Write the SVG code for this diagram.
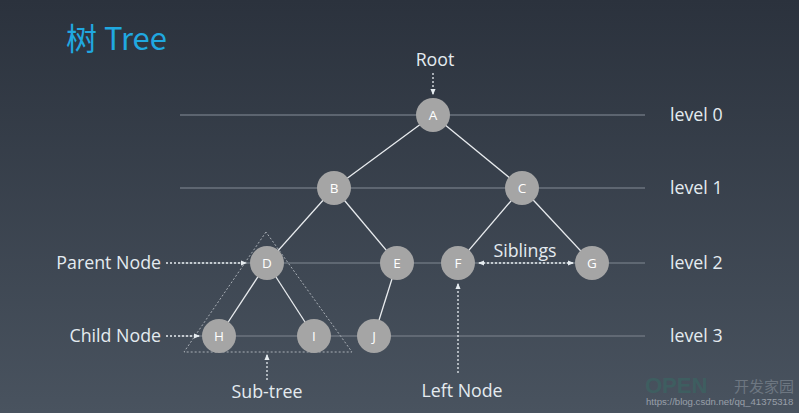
<svg xmlns="http://www.w3.org/2000/svg" width="799" height="413" viewBox="0 0 799 413">
<defs>
<linearGradient id="bg" x1="0" y1="0" x2="0" y2="1">
<stop offset="0" stop-color="#2b323d"/>
<stop offset="1" stop-color="#49535f"/>
</linearGradient>
<marker id="ah" viewBox="0 0 6 6" refX="5" refY="3" markerWidth="5" markerHeight="5" orient="auto-start-reverse">
<path d="M0,0.5 L6,3 L0,5.5 z" fill="#e6ecf0"/>
</marker>
<style>
.lvl{stroke:#6b737e;stroke-width:1.5}
.edge{stroke:#e9ecef;stroke-width:1.3}
.dot{stroke:#e6ecf0;stroke-width:1.3;stroke-dasharray:2 2;fill:none}
.tri{stroke:#a9afb6;stroke-width:1;stroke-dasharray:2 2;fill:none}
.nc{fill:#a5a5a5}
.nt{font-family:"Open Sans","Noto Sans",sans-serif;font-size:13.5px;fill:#ffffff;text-anchor:middle;dominant-baseline:central}
.lab{font-family:"Open Sans","Noto Sans",sans-serif;font-size:17.8px;fill:#e4ebf0}
</style>
</defs>
<rect width="799" height="413" fill="url(#bg)"/>
<text x="66" y="50" font-family="'Noto Sans CJK SC','Open Sans',sans-serif" font-size="31" fill="#20a8e0">树 Tree</text>
<g id="levels">
<line class="lvl" x1="180" y1="115" x2="645" y2="115"/>
<line class="lvl" x1="180" y1="188" x2="645" y2="188"/>
<line class="lvl" x1="180" y1="263" x2="645" y2="263"/>
<line class="lvl" x1="180" y1="336" x2="645" y2="336"/>
<text class="lab" x="670" y="121">level 0</text>
<text class="lab" x="670" y="194">level 1</text>
<text class="lab" x="670" y="269">level 2</text>
<text class="lab" x="670" y="342">level 3</text>
</g>
<g id="connectors">
<line class="edge" x1="433" y1="115" x2="334" y2="188"/>
<line class="edge" x1="433" y1="115" x2="522" y2="188"/>
<line class="edge" x1="334" y1="188" x2="267" y2="263"/>
<line class="edge" x1="334" y1="188" x2="397" y2="263"/>
<line class="edge" x1="522" y1="188" x2="458" y2="263"/>
<line class="edge" x1="522" y1="188" x2="592" y2="263"/>
<line class="edge" x1="267" y1="263" x2="219" y2="336"/>
<line class="edge" x1="267" y1="263" x2="314" y2="336"/>
<line class="edge" x1="397" y1="263" x2="374" y2="336"/>
<polygon class="tri" points="266,232 184,352 352,352"/>
<line class="dot" x1="433" y1="73" x2="433" y2="94" marker-end="url(#ah)"/>
<line class="dot" x1="166" y1="263" x2="246" y2="263" marker-end="url(#ah)"/>
<line class="dot" x1="166" y1="336" x2="199" y2="336" marker-end="url(#ah)"/>
<line class="dot" x1="267" y1="380" x2="267" y2="355" marker-end="url(#ah)"/>
<line class="dot" x1="458" y1="373" x2="458" y2="284" marker-end="url(#ah)"/>
<line class="dot" x1="479" y1="263" x2="573" y2="263" marker-start="url(#ah)" marker-end="url(#ah)"/>
</g>
<g id="nA"><circle class="nc" cx="433" cy="115" r="17"/><text class="nt" x="433" y="115">A</text></g>
<g id="nB"><circle class="nc" cx="334" cy="188" r="17"/><text class="nt" x="334" y="188">B</text></g>
<g id="nC"><circle class="nc" cx="522" cy="188" r="17"/><text class="nt" x="522" y="188">C</text></g>
<g id="nD"><circle class="nc" cx="267" cy="263" r="17"/><text class="nt" x="267" y="263">D</text></g>
<g id="nE"><circle class="nc" cx="397" cy="263" r="17"/><text class="nt" x="397" y="263">E</text></g>
<g id="nF"><circle class="nc" cx="458" cy="263" r="17"/><text class="nt" x="458" y="263">F</text></g>
<g id="nG"><circle class="nc" cx="592" cy="263" r="17"/><text class="nt" x="592" y="263">G</text></g>
<g id="nH"><circle class="nc" cx="219" cy="336" r="17"/><text class="nt" x="219" y="336">H</text></g>
<g id="nI"><circle class="nc" cx="314" cy="336" r="17"/><text class="nt" x="314" y="336">I</text></g>
<g id="nJ"><circle class="nc" cx="374" cy="336" r="17"/><text class="nt" x="374" y="336">J</text></g>
<g id="labels">
<text class="lab" x="435" y="66" text-anchor="middle">Root</text>
<text class="lab" x="161" y="269" text-anchor="end">Parent Node</text>
<text class="lab" x="161" y="342" text-anchor="end">Child Node</text>
<text class="lab" x="267" y="398" text-anchor="middle">Sub-tree</text>
<text class="lab" x="462" y="397" text-anchor="middle">Left Node</text>
<text class="lab" x="525" y="257" text-anchor="middle">Siblings</text>
</g>
<g id="watermark" opacity="0.55">
<text x="645" y="393" font-family="'Liberation Sans',sans-serif" font-size="22" font-weight="bold" fill="#2f7a6a" opacity="0.6">OPEN</text>
<text x="734" y="392" font-family="'Noto Sans CJK SC',sans-serif" font-size="15" fill="#8d96a0">开发家园</text>
<text x="646" y="405" font-family="'Liberation Sans',sans-serif" font-size="9.6" fill="#d8dde2">https://blog.csdn.net/qq_41375318</text>
</g>
</svg>
